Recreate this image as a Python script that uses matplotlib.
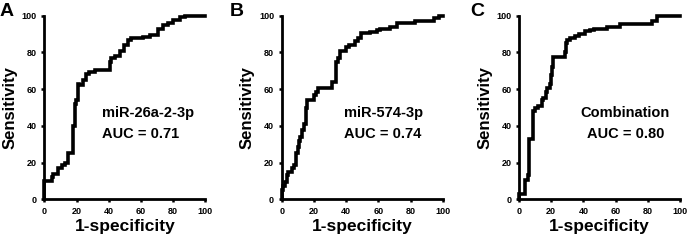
import matplotlib
matplotlib.use("Agg")
import matplotlib.pyplot as plt

plt.rcParams["font.family"] = ["Liberation Sans", "DejaVu Sans"]
plt.rcParams["font.weight"] = "bold"

# ROC curve vertices (1-specificity %, sensitivity %)
fpr_a = [0, 0, 2, 4.5, 5.6, 8.7, 10.7, 12.8, 14.9, 15.5, 17.6, 18, 19, 19.4, 21, 21.7,
         24, 25.8, 28, 31.4, 40.7, 41.7, 43.8, 47, 49.4, 52, 54, 61, 65.5, 70.7, 73.8,
         76.9, 80, 84, 87.2, 89, 100]
tpr_a = [0, 7, 10, 10, 12.3, 14, 17, 18.7, 19.6, 25, 25, 40, 40, 52, 54, 63,
         62, 65, 68, 69.5, 70.4, 75, 77, 78, 81, 84, 86.8, 87.7, 88.6, 89.5, 93,
         95, 96, 97.8, 99.5, 100, 100]

fpr_b = [0, 0, 1, 2, 3.5, 4.1, 6.2, 7.7, 8.9, 10, 11, 11.4, 12.4, 13.9, 15, 16, 17.2,
         20, 21.4, 22.8, 24.9, 31, 32, 34, 34.9, 36, 37.3, 40, 41.5, 45.6, 47.7, 49.4,
         50.8, 55, 59, 61.2, 67.4, 71.6, 73.7, 83, 86, 94.4, 97.5, 100]
tpr_b = [0, 4, 5, 7, 9.6, 13, 15, 17, 18.7, 25, 28.7, 32, 34, 37.7, 41, 50, 54,
         54, 56.8, 58.6, 60.4, 60.4, 64, 64, 75, 77, 81, 81, 83, 84, 86, 87.7,
         90.4, 90.4, 91, 92, 92.6, 94, 96, 96, 97.3, 97.3, 98.5, 100]

fpr_c = [0, 0, 4, 4.2, 5.4, 6.4, 7.5, 8.5, 8.9, 10, 12, 14, 15.2, 16.8, 17.7, 19,
         19.8, 20.4, 21, 22.5, 28.3, 29.3, 30.1, 31.8, 35, 37, 41, 44.3, 46.4, 54.7,
         55.7, 63, 64, 82.7, 85.9, 86.9, 100]
tpr_c = [0, 3, 3, 10.5, 10.5, 13, 33, 33, 46, 48, 49.5, 51, 54, 55, 58.6, 60.4,
         63, 67.7, 72, 77.7, 77.7, 80.4, 85, 86.8, 88, 89, 90, 91.6, 92.2, 92.6,
         94, 94, 95.5, 95.5, 97, 100, 100]

panel_letters = ["A", "B", "C"]
marker_names = ["miR-26a-2-3p", "miR-574-3p", "Combination"]
auc_values = [0.71, 0.74, 0.80]
ticks = [0, 20, 40, 60, 80, 100]

fig = plt.figure(figsize=(6.91, 2.41), dpi=100)

W, H = 691.0, 241.0
axes_left_px = [44.3, 281.7, 519.0]
letter_x_px = [0, 230, 470]
# panel A text is left aligned, the others centred
text_x = [35.6, 63, 66]
text_ha = ["left", "center", "center"]
curves = [(fpr_a, tpr_a), (fpr_b, tpr_b), (fpr_c, tpr_c)]

for i in range(3):
    ax = fig.add_axes([axes_left_px[i] / W, 1 - 199.3 / H, 161 / W, 183.6 / H])
    fpr, tpr = curves[i]
    ax.step(fpr, tpr, where="pre", color="black", lw=2.6, clip_on=False,
            solid_joinstyle="miter")
    ax.set_xlim(0, 100)
    ax.set_ylim(0, 100)
    ax.set_xticks(ticks)
    ax.set_yticks(ticks)
    for side in ["top", "right"]:
        ax.spines[side].set_visible(False)
    for side in ["left", "bottom"]:
        ax.spines[side].set_linewidth(2.0)
    ax.tick_params(direction="out", length=2.5, width=1.8, pad=3, labelsize=6.5)
    for lab in ax.get_xticklabels() + ax.get_yticklabels():
        lab.set_fontweight("bold")
    ax.set_xlabel("1-specificity", fontsize=12.5, fontweight="bold", labelpad=2)
    ax.set_ylabel("Sensitivity", fontsize=12, fontweight="bold", labelpad=3)
    ax.text(text_x[i], 47, marker_names[i], ha=text_ha[i], va="center",
            fontsize=10.5, fontweight="bold")
    ax.text(text_x[i], 35.5, f"AUC = {auc_values[i]:.2f}", ha=text_ha[i], va="center",
            fontsize=10.5, fontweight="bold")
    fig.text(letter_x_px[i] / W, 1 - 3 / H, panel_letters[i], ha="left", va="top",
             fontsize=14, fontweight="bold")

fig.savefig("out.png", dpi=100)
